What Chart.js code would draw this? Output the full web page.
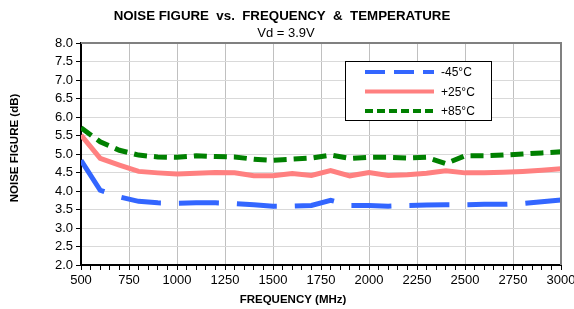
<!DOCTYPE html>
<html lang="en">
<head>
    <meta charset="UTF-8">
    <title>Noise Figure vs Frequency</title>
    <script src="https://cdn.jsdelivr.net/npm/chart.js"></script>
    <style>
        html, body { margin: 0; padding: 0; background: #fff; }
        #wrap { width: 574px; height: 309px; }
    </style>
</head>
<body>
    <div id="wrap"><canvas id="grafico" width="574" height="309"></canvas></div>
<script>
    // frequencias (MHz)
    const freq = [500, 600, 700, 800, 900, 1000, 1100, 1200, 1300, 1400, 1500, 1600, 1700,
        1800, 1900, 2000, 2100, 2200, 2300, 2400, 2500, 2600, 2700, 2800, 2900, 3000];

    // noise figure (dB) por temperatura
    const nfMenos45 = [4.83, 4.02, 3.84, 3.72, 3.68, 3.67, 3.68, 3.68, 3.66, 3.63, 3.59, 3.59, 3.61,
        3.75, 3.61, 3.61, 3.59, 3.61, 3.62, 3.63, 3.63, 3.64, 3.64, 3.66, 3.71, 3.76];
    const nfMais25 = [5.51, 4.88, 4.70, 4.53, 4.49, 4.46, 4.48, 4.50, 4.49, 4.41, 4.41, 4.47, 4.42,
        4.55, 4.41, 4.50, 4.42, 4.44, 4.48, 4.55, 4.49, 4.49, 4.51, 4.53, 4.56, 4.60];
    const nfMais85 = [5.71, 5.33, 5.10, 4.97, 4.92, 4.91, 4.95, 4.93, 4.92, 4.86, 4.83, 4.86, 4.89,
        4.97, 4.88, 4.91, 4.91, 4.89, 4.91, 4.74, 4.95, 4.95, 4.97, 5.00, 5.03, 5.06];

    const legendas = ['-45°C', '+25°C', '+85°C'];
    const cores = ['#3366ff', '#ff8080', '#008000'];
    const tracos = [[40, 18], [], [13, 7]];

    const fonte = 'Arial, "Liberation Sans", sans-serif';

    function pontos(ys) {
        return freq.map((f, i) => ({ x: f, y: ys[i] }));
    }

    // desenha titulos, bordas e legenda
    const decoracao = {
        id: 'decoracao',
        afterDraw(chart) {
            const c = chart.ctx;
            const a = chart.chartArea;
            c.save();

            // borda superior e direita
            c.strokeStyle = '#808080';
            c.lineWidth = 2;
            c.beginPath();
            c.moveTo(a.left, a.top);
            c.lineTo(a.right, a.top);
            c.lineTo(a.right, a.bottom);
            c.stroke();

            c.fillStyle = '#000';
            c.textAlign = 'center';
            c.textBaseline = 'middle';
            c.font = 'bold 13.3px ' + fonte;
            c.fillText('NOISE FIGURE  vs.  FREQUENCY  &  TEMPERATURE', 282, 16);
            c.font = '13px ' + fonte;
            c.fillText('Vd = 3.9V', 286, 33);

            c.font = 'bold 11.5px ' + fonte;
            c.fillText('FREQUENCY (MHz)', 293, 300);
            c.save();
            c.translate(15, 148);
            c.rotate(-Math.PI / 2);
            c.fillText('NOISE FIGURE (dB)', 0, 0);
            c.restore();

            // legenda
            const lx = 345.5, ly = 61.5, lw = 146, lh = 59;
            c.fillStyle = '#fff';
            c.fillRect(lx, ly, lw, lh);
            c.strokeStyle = '#000';
            c.lineWidth = 1;
            c.setLineDash([]);
            c.strokeRect(lx, ly, lw, lh);
            c.textAlign = 'left';
            c.font = '12px ' + fonte;
            legendas.forEach((txt, i) => {
                const y = 72 + i * 19.5;
                c.strokeStyle = cores[i];
                c.lineWidth = 4;
                c.setLineDash(i === 0 ? [20, 9] : (i === 2 ? [8, 4] : []));
                c.beginPath();
                c.moveTo(365, y);
                c.lineTo(434, y);
                c.stroke();
                c.fillStyle = '#000';
                c.fillText(txt, 441, y + 1);
            });
            c.restore();
        }
    };

    const ctx = document.getElementById('grafico').getContext('2d');
    const grafico = new Chart(ctx, {
        type: 'line',
        data: {
            datasets: [nfMenos45, nfMais25, nfMais85].map((ys, i) => ({
                label: legendas[i],
                data: pontos(ys),
                borderColor: cores[i],
                backgroundColor: cores[i],
                borderWidth: 5,
                borderDash: tracos[i],
                pointRadius: 0,
                tension: 0,
                fill: false
            }))
        },
        options: {
            responsive: false,
            animation: false,
            layout: { padding: { top: 43, right: 13, left: 0, bottom: 0 } },
            plugins: {
                legend: { display: false },
                title: { display: false },
                tooltip: { enabled: false }
            },
            scales: {
                x: {
                    type: 'linear',
                    min: 500,
                    max: 3000,
                    afterFit(s) {
                        s.height = 44;
                        s.paddingLeft = 0;
                        s.paddingRight = 0;
                    },
                    ticks: {
                        stepSize: 50,
                        autoSkip: false,
                        maxRotation: 0,
                        color: '#000',
                        font: { family: fonte, size: 13 },
                        callback: v => (v % 250 === 0 ? String(v) : '')
                    },
                    grid: {
                        color: c => (c.tick && c.tick.value % 250 === 0 ? '#c0c0c0' : 'rgba(0,0,0,0)'),
                        tickColor: '#000',
                        tickLength: 5,
                        lineWidth: 1
                    },
                    border: { color: '#000', width: 2 }
                },
                y: {
                    min: 2,
                    max: 8,
                    afterFit(s) {
                        s.width = 81;
                        s.paddingTop = 0;
                        s.paddingBottom = 0;
                    },
                    ticks: {
                        stepSize: 0.5,
                        autoSkip: false,
                        color: '#000',
                        font: { family: fonte, size: 13 },
                        callback: v => v.toFixed(1)
                    },
                    grid: {
                        color: '#d9d9d9',
                        tickColor: '#000',
                        tickLength: 5,
                        lineWidth: 1
                    },
                    border: { color: '#000', width: 2 }
                }
            }
        },
        plugins: [decoracao]
    });
</script>
</body>
</html>
